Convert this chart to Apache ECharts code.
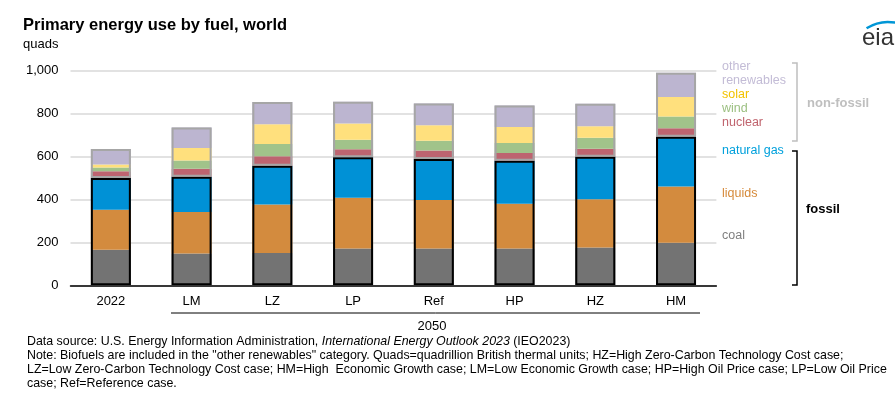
<!DOCTYPE html>
<html>
<head>
<meta charset="utf-8">
<script src="https://cdn.jsdelivr.net/npm/echarts@6/dist/echarts.min.js"></script>
<style>
html,body{margin:0;padding:0;background:#fff;}
#chart{width:895px;height:398px;}
</style>
</head>
<body>
<div id="chart"></div>
<script>
const categories = ['2022','LM','LZ','LP','Ref','HP','HZ','HM'];
const coal            = [166,148,151,172,172,172,176,198];
const liquids         = [186,193,226,236,225,208,225,262];
const naturalGas      = [148,165,180,189,191,200,198,232];
const nuclear         = [31,37,44,37,40,37,37,40];
const wind            = [18,38,57,44,46,46,51,55];
const solar           = [14,59,93,76,72,75,54,90];
const otherRenewables = [72,95,103,101,101,100,105,113];
const yTicks = [0,200,400,600,800,1000];

const FONT = "'Liberation Sans', Arial, sans-serif";
const fossilTotal = categories.map((_, i) => coal[i] + liquids[i] + naturalGas[i]);
const nonFossilTotal = categories.map((_, i) => nuclear[i] + wind[i] + solar[i] + otherRenewables[i]);

const BW = 40;
function seg(name, data, color) {
  return {
    name, type: 'bar', stack: 's', data, barWidth: BW, barGap: '-100%',
    itemStyle: { color }, emphasis: { disabled: true }, z: 2
  };
}
function outline(name, data, color) {
  return {
    name, type: 'bar', stack: 'o', data, barWidth: BW, barGap: '-100%',
    itemStyle: { color: 'rgba(0,0,0,0)', borderColor: color, borderWidth: 2 },
    emphasis: { disabled: true }, z: 3
  };
}

const chart = echarts.init(document.getElementById('chart'), null, { renderer: 'canvas' });

function txt(x, y, text, color, size, weight, align) {
  return {
    type: 'text', x, y,
    style: { text, fill: color, font: (weight || 'normal') + ' ' + size + 'px ' + FONT,
             textAlign: align || 'left', textVerticalAlign: 'middle' }
  };
}

const footer = [
  'Note: Biofuels are included in the "other renewables" category. Quads=quadrillion British thermal units; HZ=High Zero-Carbon Technology Cost case;',
  'LZ=Low Zero-Carbon Technology Cost case; HM=High  Economic Growth case; LM=Low Economic Growth case; HP=High Oil Price case; LP=Low Oil Price',
  'case; Ref=Reference case.'
];
const FS = 12.4;

const option = {
  animation: false,
  grid: { left: 70.5, right: 178.6, top: 70.7, bottom: 112.7, containLabel: false },
  xAxis: {
    type: 'category', data: categories,
    axisLine: { lineStyle: { color: '#000', width: 1.5 } },
    axisTick: { show: false },
    axisLabel: { color: '#000', fontSize: 13, fontFamily: FONT, margin: 10 }
  },
  yAxis: {
    type: 'value', min: yTicks[0], max: yTicks[yTicks.length - 1], interval: 200,
    axisLine: { show: false }, axisTick: { show: false },
    splitLine: { lineStyle: { color: '#d9d9d9', width: 1.5 } },
    axisLabel: { color: '#000', fontSize: 13, fontFamily: FONT, margin: 12,
                 formatter: v => v.toLocaleString('en-US') }
  },
  series: [
    seg('coal', coal, '#737373'),
    seg('liquids', liquids, '#d38b3e'),
    seg('natural gas', naturalGas, '#0091d6'),
    seg('nuclear', nuclear, '#bd6470'),
    seg('wind', wind, '#a1c38a'),
    seg('solar', solar, '#ffe07d'),
    seg('other renewables', otherRenewables, '#bcb5d0'),
    outline('fossil', fossilTotal, '#000000'),
    outline('non-fossil', nonFossilTotal, '#a6a6a6')
  ],
  graphic: [
    txt(23, 25, 'Primary energy use by fuel, world', '#000', 16.5, 'bold'),
    txt(23, 44, 'quads', '#000', 13),
    txt(722, 67, 'other', '#c3bcd6', 12.5),
    txt(722, 81, 'renewables', '#c3bcd6', 12.5),
    txt(722, 95, 'solar', '#f2c200', 12.5),
    txt(722, 109, 'wind', '#9bbf80', 12.5),
    txt(722, 123, 'nuclear', '#c0646e', 12.5),
    txt(722, 151, 'natural gas', '#00a0dc', 12.5),
    txt(722, 194, 'liquids', '#d68a3a', 12.5),
    txt(722, 236, 'coal', '#7f7f7f', 12.5),
    { type: 'polyline', shape: { points: [[792,63],[797,63],[797,141],[792,141]] },
      style: { stroke: '#bfbfbf', lineWidth: 1.5, fill: null } },
    { type: 'polyline', shape: { points: [[792,151],[797,151],[797,285],[792,285]] },
      style: { stroke: '#000', lineWidth: 1.5, fill: null } },
    txt(807, 103, 'non-fossil', '#bfbfbf', 13, 'bold'),
    txt(806, 209, 'fossil', '#000', 13, 'bold'),
    { type: 'line', shape: { x1: 171, y1: 313, x2: 700, y2: 313 }, style: { stroke: '#000', lineWidth: 1 } },
    txt(432, 326, '2050', '#000', 13, 'normal', 'center'),
    {
      type: 'text', x: 27, y: 342,
      style: {
        text: '{n|Data source: U.S. Energy Information Administration, }{i|International Energy Outlook 2023}{n| (IEO2023)}',
        textVerticalAlign: 'middle',
        rich: {
          n: { font: FS + 'px ' + FONT, fill: '#000' },
          i: { font: 'italic ' + FS + 'px ' + FONT, fill: '#000' }
        }
      }
    },
    txt(27, 356, footer[0], '#000', FS),
    txt(27, 370, footer[1], '#000', FS),
    txt(27, 384, footer[2], '#000', FS),
    { type: 'arc', shape: { cx: 888, cy: 62, r: 40, startAngle: -Math.PI * 0.68, endAngle: -Math.PI * 0.42 },
      style: { stroke: '#0096d6', lineWidth: 2.5, fill: null } },
    txt(862, 38, 'eia', '#333', 24)
  ]
};
chart.setOption(option);
</script>
</body>
</html>
